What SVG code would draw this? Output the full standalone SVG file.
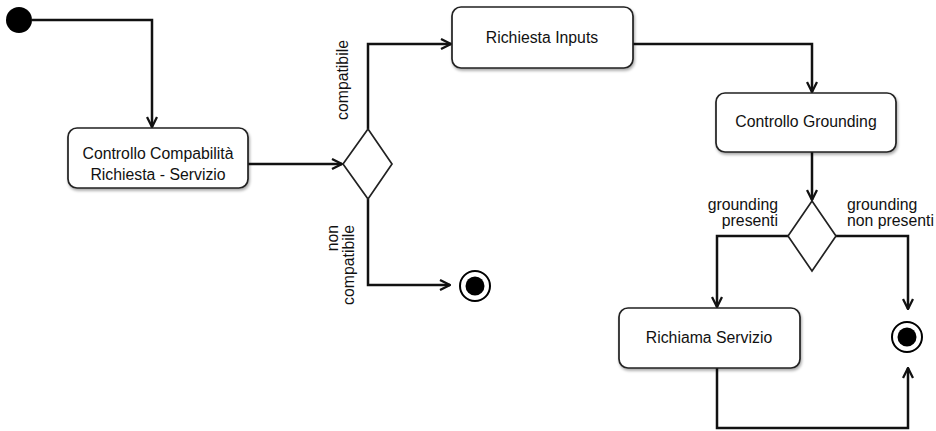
<svg xmlns="http://www.w3.org/2000/svg" width="936" height="431" viewBox="0 0 936 431">
  <style>
    text { font-family: "Liberation Sans", Arial, Helvetica, sans-serif; font-size: 15.8px; fill: #111; }
    .box { fill: #fff; stroke: #222; stroke-width: 1.7; filter: url(#shadow); }
    .dec { fill: #fff; stroke: #222; stroke-width: 1.7; }
    .flow { fill: none; stroke: #111; stroke-width: 2.5; marker-end: url(#arrow); }
    .mid { text-anchor: middle; }
  </style>
  <defs>
    <marker id="arrow" viewBox="0 0 12 12" refX="11" refY="6" markerWidth="12" markerHeight="12" markerUnits="userSpaceOnUse" orient="auto">
      <path d="M1,1 L11,6 L1,11" fill="none" stroke="#111" stroke-width="2.3"/>
    </marker>
    <filter id="shadow" x="-10%" y="-10%" width="125%" height="135%">
      <feGaussianBlur in="SourceAlpha" stdDeviation="1.5"/>
      <feOffset dx="1" dy="2" result="b"/>
      <feComponentTransfer><feFuncA type="linear" slope="0.35"/></feComponentTransfer>
      <feMerge><feMergeNode/><feMergeNode in="SourceGraphic"/></feMerge>
    </filter>
  </defs>

  <!-- transitions -->
  <g id="connectors">
    <path class="flow" d="M32,20 H152 V127"/>
    <path class="flow" d="M248,164 H342"/>
    <path class="flow" d="M368,129 V44 H451"/>
    <path class="flow" d="M368,199 V285 H450"/>
    <path class="flow" d="M633,44 H812 V92"/>
    <path class="flow" d="M812,152 V200"/>
    <path class="flow" d="M788,236 H717 V307"/>
    <path class="flow" d="M836,236 H908 V309"/>
    <path class="flow" d="M717,368 V428 H908 V368"/>
  </g>

  <!-- guard labels -->
  <g id="labels">
    <text class="mid" transform="translate(348,80) rotate(-90)">compatibile</text>
    <text text-anchor="end" transform="translate(338,225) rotate(-90)">non</text>
    <text text-anchor="end" transform="translate(354,225) rotate(-90)">compatibile</text>
    <text x="778" y="210" text-anchor="end">grounding</text>
    <text x="778" y="226" text-anchor="end">presenti</text>
    <text x="847" y="210">grounding</text>
    <text x="847" y="226">non presenti</text>
  </g>

  <g id="start">
    <circle cx="19" cy="20" r="13" fill="#000"/>
  </g>

  <g id="controllo-compatibilita">
    <rect class="box" x="68" y="128" width="180" height="60" rx="9"/>
    <text class="mid" x="158" y="159">Controllo Compabilità</text>
    <text class="mid" x="158" y="180">Richiesta - Servizio</text>
  </g>

  <g id="decisione-compatibilita">
    <polygon class="dec" points="368,129 392,164 368,199 343,164"/>
  </g>

  <g id="fine-non-compatibile">
    <circle cx="475" cy="286" r="15" fill="#fff" stroke="#000" stroke-width="2"/>
    <circle cx="475" cy="286" r="9.5" fill="#000"/>
  </g>

  <g id="richiesta-inputs">
    <rect class="box" x="452" y="7" width="181" height="61" rx="9"/>
    <text class="mid" x="542" y="43">Richiesta Inputs</text>
  </g>

  <g id="controllo-grounding">
    <rect class="box" x="716" y="93" width="180" height="59" rx="9"/>
    <text class="mid" x="806" y="127">Controllo Grounding</text>
  </g>

  <g id="decisione-grounding">
    <polygon class="dec" points="812,201 836,236 812,271 788,236"/>
  </g>

  <g id="richiama-servizio">
    <rect class="box" x="619" y="308" width="181" height="60" rx="9"/>
    <text class="mid" x="709" y="343">Richiama Servizio</text>
  </g>

  <g id="fine">
    <circle cx="907" cy="337" r="15" fill="#fff" stroke="#000" stroke-width="2"/>
    <circle cx="907" cy="337" r="9.5" fill="#000"/>
  </g>
</svg>
